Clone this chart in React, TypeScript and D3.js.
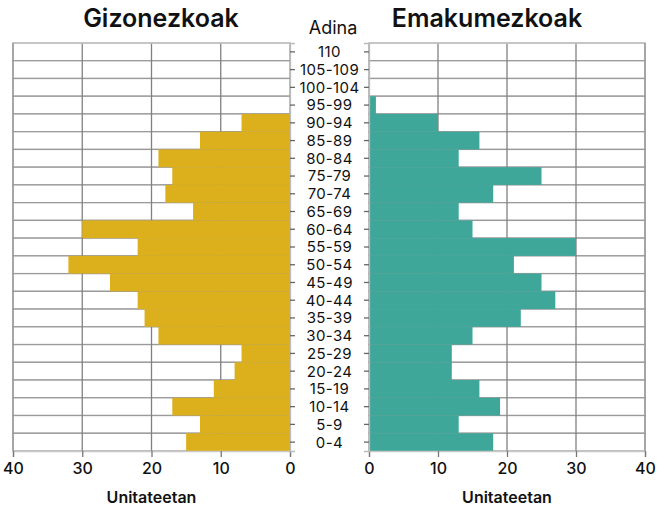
import { useEffect, useRef } from "react";
import * as d3 from "d3";

const ages = [
  "110", "105-109", "100-104", "95-99", "90-94", "85-89", "80-84", "75-79",
  "70-74", "65-69", "60-64", "55-59", "50-54", "45-49", "40-44", "35-39",
  "30-34", "25-29", "20-24", "15-19", "10-14", "5-9", "0-4",
];
const men = [0, 0, 0, 0, 7, 13, 19, 17, 18, 14, 30, 22, 32, 26, 22, 21, 19, 7, 8, 11, 17, 13, 15];
const women = [0, 0, 0, 1, 10, 16, 13, 25, 18, 13, 15, 30, 21, 25, 27, 22, 15, 12, 12, 16, 19, 13, 18];
const xTicks = [0, 10, 20, 30, 40];

const FONT = "Inter, 'Noto Sans', sans-serif";
const MEN_COLOR = "#dbb01c";
const WOMEN_COLOR = "#3ea79a";

export default function App() {
  const ref = useRef<SVGSVGElement | null>(null);
  const width = 672;
  const height = 509;

  useEffect(() => {
    const svg = d3.select(ref.current);
    svg.selectAll("*").remove();

    const y = d3.scaleBand<string>().domain(ages).range([43, 451]).padding(0);
    const xL = d3.scaleLinear().domain([0, 40]).range([290, 13]);
    const xR = d3.scaleLinear().domain([0, 40]).range([369, 645]);

    const panel = (x: d3.ScaleLinear<number, number>, values: number[], color: string, left: boolean) => {
      const g = svg.append("g");
      // white row backgrounds
      g.selectAll("rect.bg")
        .data(ages)
        .enter()
        .append("rect")
        .attr("x", Math.min(x(0), x(40)))
        .attr("width", Math.abs(x(40) - x(0)))
        .attr("y", (d) => y(d) as number)
        .attr("height", y.bandwidth())
        .attr("fill", "#fff")
        .attr("stroke", "#9a9a9a")
        .attr("stroke-width", 1.3);
      // vertical grid
      g.selectAll("line.grid")
        .data([10, 20, 30])
        .enter()
        .append("line")
        .attr("x1", (d) => x(d))
        .attr("x2", (d) => x(d))
        .attr("y1", 43)
        .attr("y2", 451)
        .attr("stroke", "#808080")
        .attr("stroke-width", 1.3);
      g.append("line")
        .attr("x1", Math.min(x(0), x(40))).attr("x2", Math.max(x(0), x(40)))
        .attr("y1", 43).attr("y2", 43)
        .attr("stroke", "#c8c8c8").attr("stroke-width", 1.5);
      g.append("line")
        .attr("x1", x(40)).attr("x2", x(40))
        .attr("y1", 43).attr("y2", 451)
        .attr("stroke", "#9a9a9a").attr("stroke-width", 1.3);
      // bars
      g.selectAll("rect.bar")
        .data(values)
        .enter()
        .append("rect")
        .attr("x", (d) => Math.min(x(0), x(d)))
        .attr("width", (d) => Math.abs(x(d) - x(0)))
        .attr("y", (d, i) => y(ages[i]) as number)
        .attr("height", y.bandwidth())
        .attr("fill", color);

      // bottom axis
      const axis = g.append("g")
        .attr("transform", `translate(0,451)`)
        .call(d3.axisBottom(x).tickValues(xTicks).tickSize(6).tickPadding(6).tickFormat(d3.format("d")));
      axis.select(".domain").attr("stroke", "#c8c8c8").attr("stroke-width", 1.5);
      axis.selectAll(".tick line").attr("stroke", "#777").attr("stroke-width", 1.3);
      axis.selectAll(".tick text")
        .attr("fill", "#111")
        .attr("font-size", "16px")
        .attr("font-weight", 500)
        .attr("font-family", FONT);

      // side ticks (age axis)
      const yAxis = g.append("g")
        .attr("transform", `translate(${x(0)},0)`)
        .call((left ? d3.axisRight(y) : d3.axisLeft(y)).tickSize(5).tickFormat(() => ""));
      yAxis.select(".domain").attr("stroke", "#bbb").attr("stroke-width", 1.3);
      yAxis.selectAll(".tick line").attr("stroke", "#666").attr("stroke-width", 1.3);

      const cx = (x(0) + x(40)) / 2;
      g.append("text")
        .attr("x", cx).attr("y", 503)
        .attr("text-anchor", "middle")
        .attr("font-size", "16px")
        .attr("font-weight", 600)
        .attr("font-family", FONT)
        .attr("fill", "#111")
        .text("Unitateetan");
      g.append("text")
        .attr("x", left ? 161 : 487).attr("y", 27)
        .attr("text-anchor", "middle")
        .attr("font-size", "25px")
        .attr("font-weight", 600)
        .attr("font-family", FONT)
        .attr("fill", "#111")
        .text(left ? "Gizonezkoak" : "Emakumezkoak");
    };

    panel(xL, men, MEN_COLOR, true);
    panel(xR, women, WOMEN_COLOR, false);

    // age labels
    svg.append("g")
      .selectAll("text")
      .data(ages)
      .enter()
      .append("text")
      .attr("x", 329.5)
      .attr("y", (d) => (y(d) as number) + y.bandwidth() / 2)
      .attr("dy", "0.36em")
      .attr("text-anchor", "middle")
      .attr("font-size", "15px")
      .attr("letter-spacing", "0.4px")
      .attr("font-family", FONT)
      .attr("fill", "#111")
      .text((d) => d);

    svg.append("text")
      .attr("x", 333).attr("y", 34)
      .attr("text-anchor", "middle")
      .attr("font-size", "18px")
      .attr("font-family", FONT)
      .attr("fill", "#111")
      .text("Adina");
  }, []);

  return (
    <svg
      ref={ref}
      width={width}
      height={height}
      style={{ position: "absolute", left: 0, top: 0, background: "#fff" }}
    />
  );
}
